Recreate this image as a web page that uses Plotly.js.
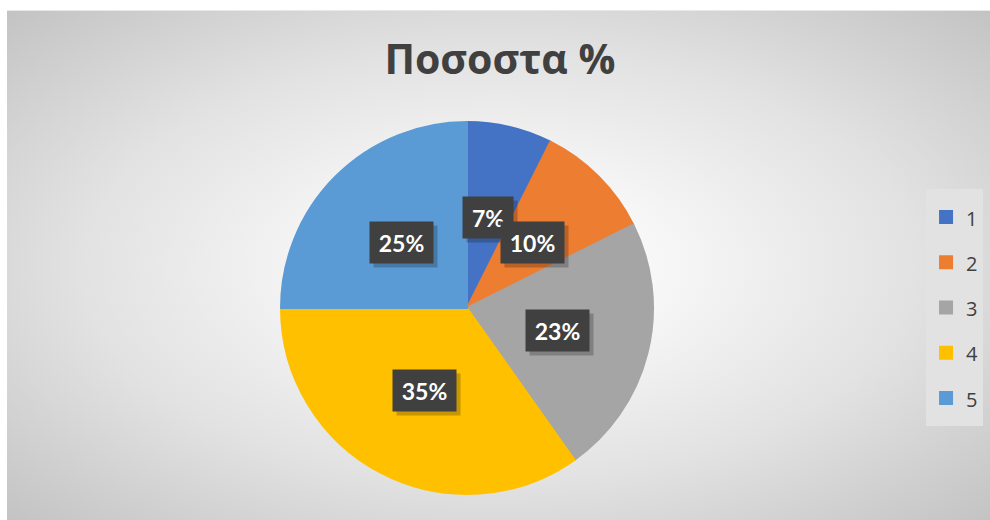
<!DOCTYPE html>
<html><head><meta charset="utf-8">
<script src="https://cdn.plot.ly/plotly-3.0.1.min.js"></script>
<style>
html,body{margin:0;padding:0;background:#fff;}
#bg{position:absolute;left:7px;top:10px;width:983px;height:510px;
background:radial-gradient(ellipse farthest-corner at 50% 50%, #ffffff 0%, #f6f6f6 25%, #e2e2e2 60%, #c3c3c3 100%);
border-top:1px solid #e8e8e8;}
#chart{position:absolute;left:0;top:0;width:990px;height:520px;}
</style></head><body>
<div id="bg"></div>
<div id="chart"></div>
<script>
const title = "Ποσοστα %";
const categories = ["1", "2", "3", "4", "5"];
const values = [7.4, 10.2, 22.6, 34.8, 25.0];
const colors = ["#4472C4", "#ED7D31", "#A5A5A5", "#FFC000", "#5B9BD5"];

const W = 990, H = 520;
const cx = 467, cy = 308, R = 186;
const domX = [(cx - R) / W, (cx + R) / W];
const domY = [(H - (cy + R)) / H, (H - (cy - R)) / H];

const total = values.reduce((a, b) => a + b, 0);
const annotations = [];
let cum = 0;
values.forEach((v, i) => {
  const mid = (cum + v / 2) / total * 2 * Math.PI;
  cum += v;
  const r = 0.5 * R;
  const px = cx + r * Math.sin(mid);
  const py = cy - r * Math.cos(mid);
  const txt = Math.round(v / total * 100) + "%";
  const boxW = txt.length <= 2 ? 36 : 49;
  const base = {x: px / W, y: (H - py) / H, xref: "paper", yref: "paper",
    showarrow: false, borderpad: 7, xanchor: "center", yanchor: "middle",
    width: boxW, height: 27,
    font: {family: "Lato, 'Open Sans', sans-serif", size: 23, color: "#ffffff", weight: 700}};
  annotations.push(Object.assign({}, base, {text: "\u00a0", xshift: 4, yshift: -4,
    bgcolor: "rgba(0,0,0,0.22)"}));
  annotations.push(Object.assign({}, base, {text: txt, bgcolor: "#404040"}));
});

const data = [{
  type: "pie",
  labels: categories.map(c => '<span style="font-size:20px;baseline-shift:4px">' + c + '</span>'),
  values: values,
  sort: false,
  direction: "clockwise",
  rotation: 0,
  textinfo: "none",
  hoverinfo: "skip",
  marker: {colors: colors, line: {color: colors, width: 2}},
  domain: {x: domX, y: domY},
  showlegend: true
}];

const layout = {
  width: W, height: H,
  margin: {l: 0, r: 0, t: 0, b: 0},
  paper_bgcolor: "rgba(0,0,0,0)",
  plot_bgcolor: "rgba(0,0,0,0)",
  title: {text: "<b>" + title + "</b>", x: 0.505, xanchor: "center", y: 0.885, yanchor: "middle",
    font: {family: "'Open Sans', sans-serif", size: 41, color: "#404040"}},
  legend: {x: 0.9354, xanchor: "left", y: 0.408, yanchor: "middle",
    bgcolor: "#e2e2e2", borderwidth: 0,
    font: {family: "'Open Sans', sans-serif", size: 32.5, color: "#404040"},
    itemclick: false, itemdoubleclick: false},
  annotations: annotations
};

Plotly.newPlot("chart", data, layout, {displayModeBar: false, staticPlot: true});
</script>
</body></html>
